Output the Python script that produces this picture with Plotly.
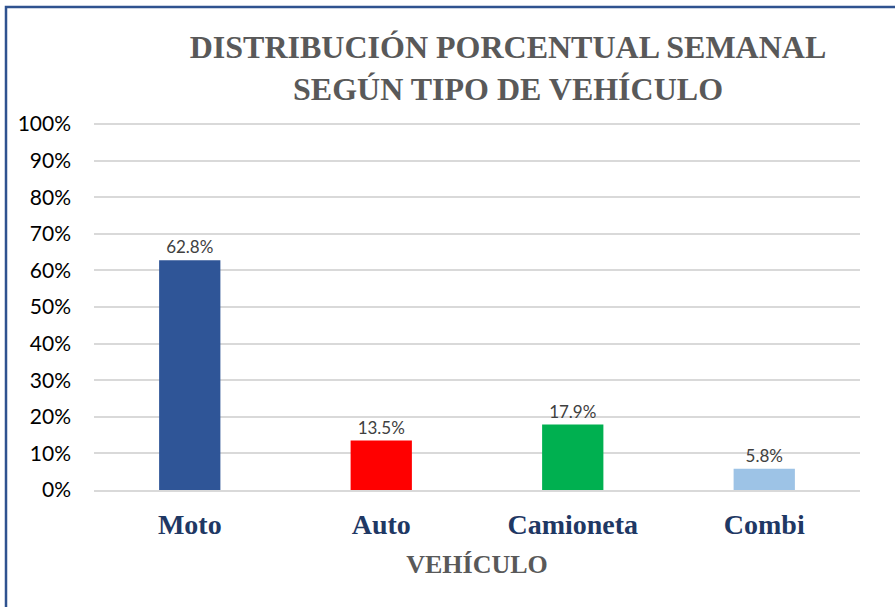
import plotly.graph_objects as go

categories = ["Moto", "Auto", "Camioneta", "Combi"]
values = [0.628, 0.135, 0.179, 0.058]
bar_colors = ["#2F5597", "#FF0000", "#00B050", "#9DC3E6"]
labels = ["62.8%", "13.5%", "17.9%", "5.8%"]

W, H = 895, 607
L, R, T, B = 94, 35, 123, 117
pw = W - L - R
ph = H - T - B

def px_x(x):
    return (x - L) / pw

def px_y(y):
    return (H - B - y) / ph

fig = go.Figure()
fig.add_trace(go.Bar(
    x=categories, y=values, marker=dict(color=bar_colors, line=dict(width=0)),
    text=labels, textposition="outside",
    textfont=dict(family="Lato, 'Open Sans', sans-serif", size=17, color="#404040"),
    cliponaxis=False, hoverinfo="skip",
))

fig.update_layout(
    width=W, height=H,
    margin=dict(l=L, r=R, t=T, b=B),
    paper_bgcolor="white", plot_bgcolor="white",
    bargap=0.68,
    showlegend=False,
    title=dict(
        text="DISTRIBUCIÓN PORCENTUAL SEMANAL<br>SEGÚN TIPO DE VEHÍCULO",
        x=508 / W, xanchor="center", xref="container",
        y=1 - 58 / H, yanchor="middle", yref="container",
        font=dict(family="'Liberation Serif', 'Times New Roman', serif", size=32, color="#595959", weight="bold"),
    ),
    xaxis=dict(
        tickfont=dict(family="'Liberation Serif', 'Times New Roman', serif", size=28, color="#1F3864", weight="bold"),
        showline=True, linecolor="#D9D9D9", linewidth=2,
        ticks="", ticklabelstandoff=8,
        title=dict(text="VEHÍCULO", standoff=16,
                   font=dict(family="'Liberation Serif', 'Times New Roman', serif", size=26, color="#595959", weight="bold")),
    ),
    yaxis=dict(
        range=[0, 1.003], dtick=0.1, tickformat=".0%",
        showgrid=True, gridcolor="#D9D9D9", gridwidth=1.5,
        zeroline=False, showline=False, ticks="",
        ticklabelstandoff=22,
        tickfont=dict(family="Lato, 'Open Sans', sans-serif", size=21, color="#000000"),
    ),
    shapes=[dict(
        type="path", xref="paper", yref="paper",
        path=f"M {px_x(6)} {px_y(H + 10)} L {px_x(6)} {px_y(7)} L {px_x(W + 10)} {px_y(7)}",
        line=dict(color="#2F528F", width=2.5), layer="above",
    )],
)

fig.write_html("out.html", config={"displayModeBar": False},
               post_script="document.body.style.margin='0';document.body.style.overflow='hidden';")
